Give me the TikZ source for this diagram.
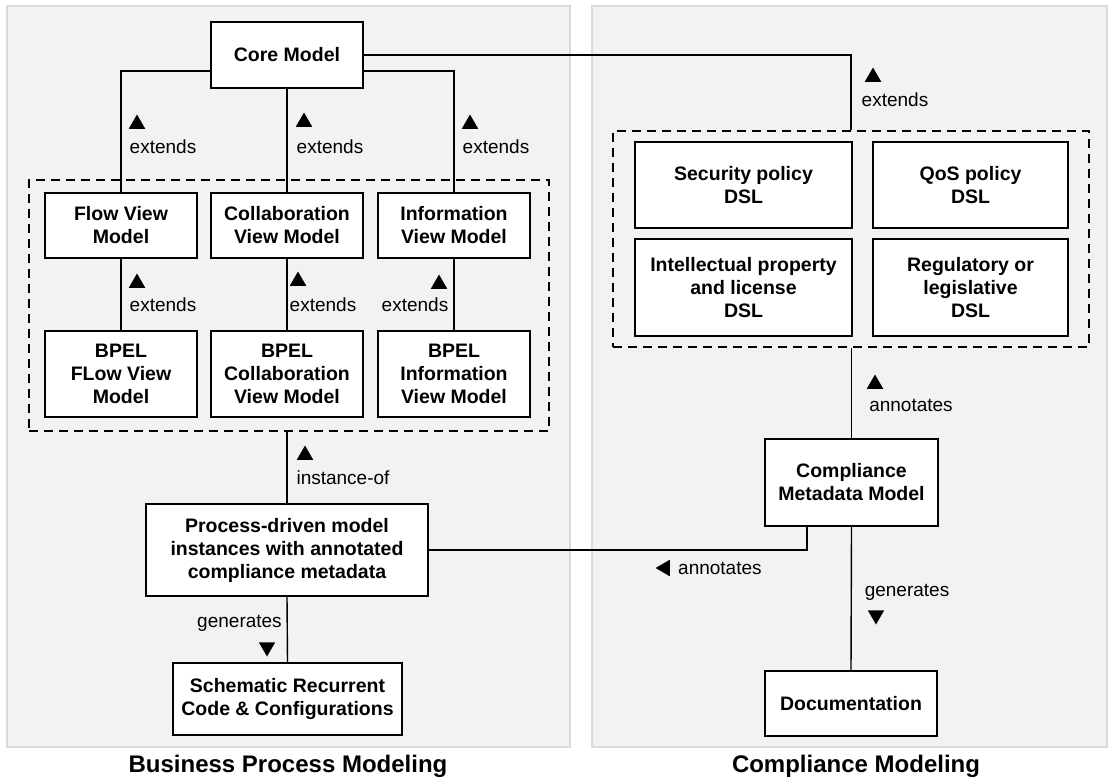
\documentclass[tikz,border=0pt]{standalone}
\usepackage{fontspec}
\setmainfont{Liberation Sans}
\usetikzlibrary{shapes.geometric}
\definecolor{panelfill}{HTML}{F2F2F2}
\definecolor{panelline}{HTML}{DADADA}
\begin{document}
\begin{tikzpicture}[x=1pt,y=-1pt,
  panel/.style={draw=panelline, fill=panelfill, line width=1.5pt},
  box/.style={draw, fill=white, line width=1.8pt, align=center, inner sep=0pt,
    font=\bfseries\fontsize{19.5}{23}\selectfont},
  grp/.style={draw, dash pattern=on 9pt off 6pt, line width=1.4pt, inner sep=0pt},
  link/.style={draw, line width=1.4pt},
  lbl/.style={font=\fontsize{19}{23}\selectfont, inner sep=0pt},
  tri/.style={regular polygon, regular polygon sides=3, fill=black, inner sep=0pt, minimum size=19pt},
  tridown/.style={tri, shape border rotate=180},
  trileft/.style={tri, shape border rotate=90},
  title/.style={font=\bfseries\fontsize{24}{28}\selectfont, inner sep=0pt}]
\useasboundingbox (0,0) rectangle (1113,780);

% background panels
\draw[panel] (7,6) rectangle (570,747);
\draw[panel] (592,6) rectangle (1107,747);

% dashed groups
\node[grp, minimum width=520pt, minimum height=251pt] (g1) at (289,305.5) {};
\node[grp, minimum width=476pt, minimum height=216pt] (g2) at (851,239) {};

% business process side
\node[box, minimum width=152pt, minimum height=66pt] (core) at (287,55) {Core Model};
\node[box, minimum width=152pt, minimum height=65pt] (flow) at (121,225.5) {Flow View\\Model};
\node[box, minimum width=152pt, minimum height=65pt] (collab) at (287,225.5) {Collaboration\\View Model};
\node[box, minimum width=152pt, minimum height=65pt] (info) at (454,225.5) {Information\\View Model};
\node[box, minimum width=152pt, minimum height=86pt] (bflow) at (121,374) {BPEL\\FLow View\\Model};
\node[box, minimum width=152pt, minimum height=86pt] (bcollab) at (287,374) {BPEL\\Collaboration\\View Model};
\node[box, minimum width=152pt, minimum height=86pt] (binfo) at (454,374) {BPEL\\Information\\View Model};
\node[box, minimum width=282pt, minimum height=92pt] (proc) at (287,550) {Process-driven model\\instances with annotated\\compliance metadata};
\node[box, minimum width=229pt, minimum height=72pt] (schem) at (287.5,699) {Schematic Recurrent\\Code \& Configurations};

% compliance side
\node[box, minimum width=217pt, minimum height=86pt] (sec) at (743.5,185) {Security policy\\DSL};
\node[box, minimum width=195pt, minimum height=86pt] (qos) at (970.5,185) {QoS policy\\DSL};
\node[box, minimum width=217pt, minimum height=97pt] (ip) at (743.5,287.5) {Intellectual property\\and license\\DSL};
\node[box, minimum width=195pt, minimum height=97pt] (reg) at (970.5,287.5) {Regulatory or\\legislative\\DSL};
\node[box, minimum width=173pt, minimum height=87pt] (cmm) at (851.5,482.5) {Compliance\\Metadata Model};
\node[box, minimum width=172pt, minimum height=65pt] (doc) at (851,703.5) {Documentation};
\coordinate (tap) at ([xshift=43pt]cmm.south west);

% connectors
\draw[link] (core.east) -| (g2.north);
\draw[link] ([yshift=-16pt]core.west) -| (flow.north);
\draw[link] ([yshift=-16pt]core.east) -| (info.north);
\draw[link] (core.south) -- (collab.north);
\draw[link] (flow.south) -- (bflow.north);
\draw[link] (collab.south) -- (bcollab.north);
\draw[link] (info.south) -- (binfo.north);
\draw[link] (proc.north) -- (proc.north |- g1.south);
\draw[link] (proc.south) -- (schem.north);
\draw[link] (cmm.north) -- (cmm.north |- g2.south);
\draw[link] (proc.east) -| (tap);
\draw[link] (cmm.south) -- (doc.north);

% connector labels
\node[tri] (t1) at (137,124) {};
\node[lbl] (l1) at (163,147) {extends};
\node[tri] (t2) at (304,122) {};
\node[lbl] (l2) at (330,147) {extends};
\node[tri] (t3) at (470,124) {};
\node[lbl] (l3) at (496,147) {extends};
\node[tri] (t4) at (137,283) {};
\node[lbl] (l4) at (163,305) {extends};
\node[tri] (t5) at (298,281) {};
\node[lbl] (l5) at (323,305) {extends};
\node[tri] (t6) at (439,284) {};
\node[lbl] (l6) at (415,305) {extends};
\node[tri] (t7) at (873,77) {};
\node[lbl] (l7) at (895,100) {extends};
\node[tri] (t8) at (875,384) {};
\node[lbl] (l8) at (911,405) {annotates};
\node[tri] (t9) at (305,455) {};
\node[lbl] (l9) at (343,478) {instance-of};
\node[lbl] (l10) at (239.5,623) {generates};
\node[tridown] (t10) at (267,647) {};
\node[trileft] (t11) at (665,568) {};
\node[lbl, anchor=west] (l11) at (678,568) {annotates};
\node[lbl] (l12) at (907,592) {generates};
\node[tridown] (t12) at (876,615) {};

% panel titles
\node[title] (bpm) at (288,766) {Business Process Modeling};
\node[title] (cm) at (856,766) {Compliance Modeling};
\end{tikzpicture}
\end{document}
